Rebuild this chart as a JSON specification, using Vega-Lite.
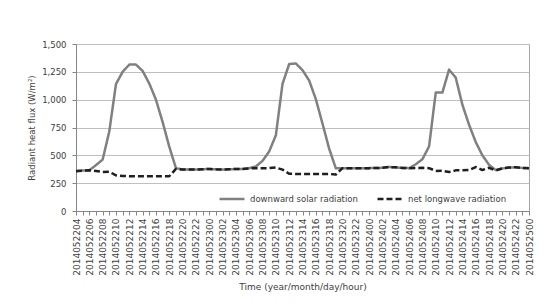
{
  "$schema": "https://vega.github.io/schema/vega-lite/v6.json",
  "width": 453,
  "height": 167,
  "autosize": "none",
  "padding": {"left": 76, "top": 44, "right": 15, "bottom": 95},
  "background": "white",
  "config": {
    "font": "DejaVu Sans",
    "view": {"stroke": "#a6a6a6", "strokeWidth": 1},
    "axis": {"labelColor": "#404040", "titleColor": "#404040", "domainColor": "#868686", "tickColor": "#868686", "labelFont": "DejaVu Sans", "titleFont": "DejaVu Sans", "titleFontWeight": "normal"}
  },
  "data": {
    "values": [
      {"t": "2014052204", "solar": 360, "longwave": 358},
      {"t": "2014052205", "solar": 363, "longwave": 362},
      {"t": "2014052206", "solar": 366, "longwave": 365},
      {"t": "2014052207", "solar": 412, "longwave": 360},
      {"t": "2014052208", "solar": 462, "longwave": 350},
      {"t": "2014052209", "solar": 715, "longwave": 352},
      {"t": "2014052210", "solar": 1140, "longwave": 320},
      {"t": "2014052211", "solar": 1250, "longwave": 315},
      {"t": "2014052212", "solar": 1315, "longwave": 312},
      {"t": "2014052213", "solar": 1315, "longwave": 312},
      {"t": "2014052214", "solar": 1258, "longwave": 312},
      {"t": "2014052215", "solar": 1145, "longwave": 312},
      {"t": "2014052216", "solar": 1000, "longwave": 312},
      {"t": "2014052217", "solar": 800, "longwave": 312},
      {"t": "2014052218", "solar": 578, "longwave": 312},
      {"t": "2014052219", "solar": 385, "longwave": 378},
      {"t": "2014052220", "solar": 372, "longwave": 372},
      {"t": "2014052221", "solar": 372, "longwave": 372},
      {"t": "2014052222", "solar": 372, "longwave": 372},
      {"t": "2014052223", "solar": 375, "longwave": 375},
      {"t": "2014052300", "solar": 378, "longwave": 378},
      {"t": "2014052301", "solar": 374, "longwave": 374},
      {"t": "2014052302", "solar": 372, "longwave": 372},
      {"t": "2014052303", "solar": 375, "longwave": 375},
      {"t": "2014052304", "solar": 377, "longwave": 377},
      {"t": "2014052305", "solar": 378, "longwave": 378},
      {"t": "2014052306", "solar": 385, "longwave": 382},
      {"t": "2014052307", "solar": 400, "longwave": 385},
      {"t": "2014052308", "solar": 450, "longwave": 385},
      {"t": "2014052309", "solar": 535, "longwave": 385},
      {"t": "2014052310", "solar": 680, "longwave": 390},
      {"t": "2014052311", "solar": 1142, "longwave": 372},
      {"t": "2014052312", "solar": 1320, "longwave": 335},
      {"t": "2014052313", "solar": 1325, "longwave": 333},
      {"t": "2014052314", "solar": 1265, "longwave": 333},
      {"t": "2014052315", "solar": 1172, "longwave": 333},
      {"t": "2014052316", "solar": 1005, "longwave": 333},
      {"t": "2014052317", "solar": 785, "longwave": 333},
      {"t": "2014052318", "solar": 560, "longwave": 333},
      {"t": "2014052319", "solar": 384, "longwave": 327},
      {"t": "2014052320", "solar": 385, "longwave": 385},
      {"t": "2014052321", "solar": 385, "longwave": 385},
      {"t": "2014052322", "solar": 385, "longwave": 385},
      {"t": "2014052323", "solar": 385, "longwave": 385},
      {"t": "2014052400", "solar": 385, "longwave": 385},
      {"t": "2014052401", "solar": 386, "longwave": 386},
      {"t": "2014052402", "solar": 388, "longwave": 388},
      {"t": "2014052403", "solar": 395, "longwave": 395},
      {"t": "2014052404", "solar": 392, "longwave": 392},
      {"t": "2014052405", "solar": 386, "longwave": 386},
      {"t": "2014052406", "solar": 385, "longwave": 385},
      {"t": "2014052407", "solar": 420, "longwave": 386},
      {"t": "2014052408", "solar": 465, "longwave": 388},
      {"t": "2014052409", "solar": 580, "longwave": 385},
      {"t": "2014052410", "solar": 1064, "longwave": 360},
      {"t": "2014052411", "solar": 1064, "longwave": 362},
      {"t": "2014052412", "solar": 1270, "longwave": 350},
      {"t": "2014052413", "solar": 1198, "longwave": 365},
      {"t": "2014052414", "solar": 955, "longwave": 365},
      {"t": "2014052415", "solar": 775, "longwave": 368},
      {"t": "2014052416", "solar": 620, "longwave": 395},
      {"t": "2014052417", "solar": 500, "longwave": 368},
      {"t": "2014052418", "solar": 415, "longwave": 388},
      {"t": "2014052419", "solar": 368, "longwave": 365},
      {"t": "2014052420", "solar": 382, "longwave": 383},
      {"t": "2014052421", "solar": 390, "longwave": 390},
      {"t": "2014052422", "solar": 393, "longwave": 393},
      {"t": "2014052423", "solar": 387, "longwave": 387},
      {"t": "2014052500", "solar": 385, "longwave": 385}
    ]
  },
  "transform": [{"fold": ["solar", "longwave"], "as": ["series", "value"]}],
  "mark": {"type": "line", "strokeWidth": 2.5, "strokeJoin": "round"},
  "encoding": {
    "x": {
      "field": "t",
      "type": "ordinal",
      "sort": null,
      "scale": {"type": "point", "padding": 0},
      "axis": {
        "title": "Time (year/month/day/hour)",
        "titleFontSize": 9,
        "titlePadding": 7,
        "labelAngle": -90,
        "labelFontSize": 9,
        "labelOverlap": false,
        "labelPadding": 3,
        "labelExpr": "(+substring(datum.label, 8, 10)) % 2 == 0 ? datum.label : ''",
        "tickSize": 4,
        "grid": false
      }
    },
    "y": {
      "field": "value",
      "type": "quantitative",
      "scale": {"domain": [0, 1500], "nice": false},
      "axis": {
        "title": "Radiant heat flux (W/m²)",
        "titleFontSize": 8.5,
        "titlePadding": 5,
        "values": [0, 250, 500, 750, 1000, 1250, 1500],
        "format": ",.0f",
        "labelFontSize": 8.5,
        "labelPadding": 6,
        "tickSize": 4,
        "gridColor": "#bfbfbf",
        "domain": true
      }
    },
    "color": {
      "field": "series",
      "type": "nominal",
      "scale": {"domain": ["solar", "longwave"], "range": ["#808080", "#1f1f1f"]},
      "legend": {
        "title": null,
        "orient": "none",
        "legendX": 142,
        "legendY": 141,
        "direction": "horizontal",
        "symbolType": "stroke",
        "symbolSize": 625,
        "symbolStrokeWidth": 2.5,
        "labelFontSize": 8.5,
        "labelColor": "#404040",
        "columnPadding": 14,
        "labelExpr": "datum.label == 'solar' ? 'downward solar radiation' : 'net longwave radiation'"
      }
    },
    "strokeDash": {
      "field": "series",
      "type": "nominal",
      "scale": {"domain": ["solar", "longwave"], "range": [[1, 0], [6, 3]]},
      "legend": {
        "title": null,
        "orient": "none",
        "legendX": 142,
        "legendY": 141,
        "direction": "horizontal",
        "symbolType": "stroke",
        "symbolSize": 625,
        "symbolStrokeWidth": 2.5,
        "labelFontSize": 8.5,
        "labelColor": "#404040",
        "columnPadding": 14,
        "labelExpr": "datum.label == 'solar' ? 'downward solar radiation' : 'net longwave radiation'"
      }
    }
  }
}
